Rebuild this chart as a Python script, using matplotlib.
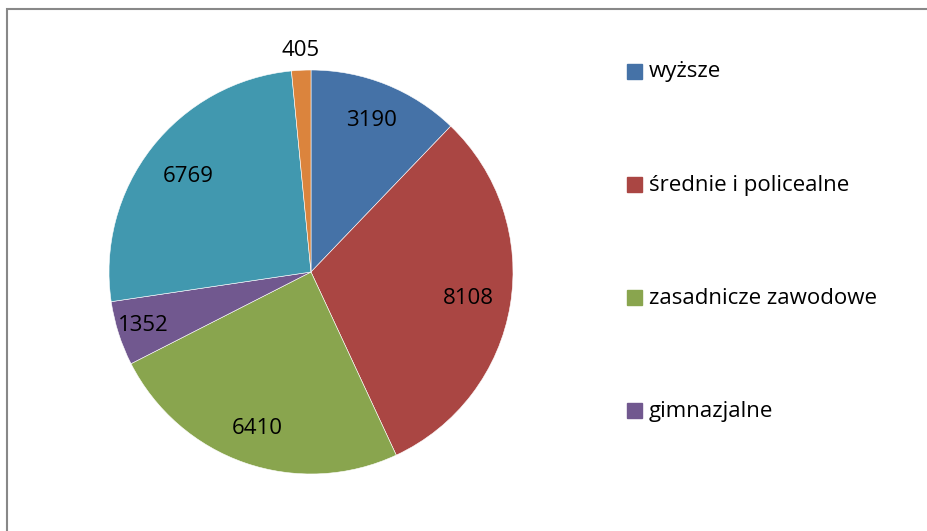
import numpy as np
import matplotlib.pyplot as plt
from matplotlib.patches import Rectangle

plt.rcParams['font.family'] = ['Open Sans', 'DejaVu Sans']

labels = ['wyższe', 'średnie i policealne', 'zasadnicze zawodowe',
          'gimnazjalne', 'podstawowe', 'niepełne podstawowe']
values = [3190, 8108, 6410, 1352, 6769, 405]
colors = ['#4572A7', '#AA4643', '#89A54E', '#71588F', '#4198AF', '#DB843D']
label_dist = [0.81, 0.79, 0.82, 0.87, 0.77, 1.1]
n_legend = 4  # legend in the original only has room for the first four

fig = plt.figure(figsize=(9.27, 5.31), dpi=100)

# chart frame (cropped on the right and bottom in the original)
fig.patches.append(Rectangle((7 / 927, -0.1), 1.2, (531 - 9) / 531 + 0.1,
                             transform=fig.transFigure, fill=False,
                             edgecolor='#888888', linewidth=1.5))

ax = fig.add_axes([(311 - 202) / 927, (259 - 202) / 531, 404 / 927, 404 / 531])
wedges, _ = ax.pie(values, colors=colors, startangle=90, counterclock=False,
                   radius=1, wedgeprops=dict(edgecolor='white', linewidth=0.4))
ax.set_xlim(-1, 1)
ax.set_ylim(-1, 1)
ax.set_aspect('equal')
ax.axis('off')

for w, v, d in zip(wedges, values, label_dist):
    ang = np.deg2rad((w.theta1 + w.theta2) / 2)
    ax.text(d * np.cos(ang), d * np.sin(ang), str(v), ha='center', va='center',
            fontsize=16, color='black', clip_on=False)

# legend entries, evenly spaced down the right side
for i, (lab, c) in enumerate(zip(labels[:n_legend], colors)):
    y = 1 - (72 + i * 113) / 531
    fig.patches.append(Rectangle((627 / 927, y - 7 / 531), 15 / 927, 15 / 531,
                                 transform=fig.transFigure, color=c))
    fig.text(649 / 927, y, lab, ha='left', va='center', fontsize=16)

fig.savefig('out.png', dpi=100)
